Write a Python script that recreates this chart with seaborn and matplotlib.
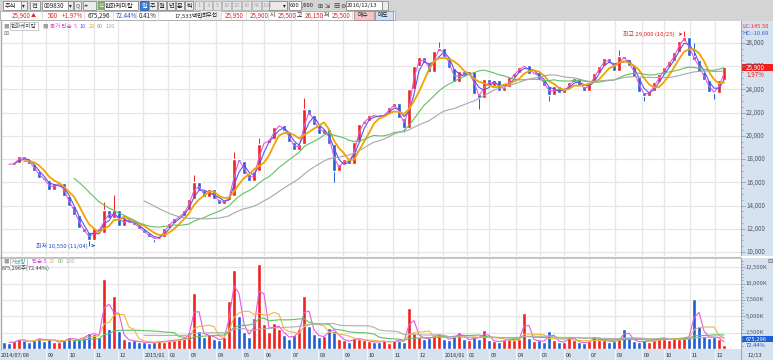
import math
import numpy as np
import pandas as pd
import matplotlib
matplotlib.use("Agg")
import matplotlib.pyplot as plt
from matplotlib.patches import Rectangle
import seaborn as sns

sns.set_style("white")
plt.rcParams['font.family'] = ['Noto Sans CJK KR', 'DejaVu Sans']
plt.rcParams['axes.unicode_minus'] = False

# 한화케미칼 (009830) daily chart 2014/07/08 ~ 2016/12/13 (600 bars),
# read off the picture about every 4 trading days
first_open = 17700
close = [17600, 17500, 17700, 18300, 18000, 17600, 17000, 16400, 16200, 15300,
         15900, 15900, 14800, 14000, 13200, 12100, 11700, 11000, 12100, 11600,
         13600, 12900, 13600, 12200, 12900, 12600, 12300, 12000, 11600, 11300,
         11100, 11300, 12100, 12500, 12900, 13100, 13600, 14600, 16000, 15300,
         14700, 15400, 14600, 14100, 14500, 14800, 18000, 17800, 16700, 16100,
         17000, 19300, 19400, 19700, 20800, 20900, 20400, 19500, 18800, 19300,
         22300, 21800, 20900, 20200, 20600, 19300, 17000, 17600, 18000, 17600,
         19500, 21000, 21300, 21800, 21700, 21600, 21900, 22500, 22800, 21500,
         20700, 24000, 26000, 26800, 26300, 25500, 27300, 27600, 26800, 25800,
         24600, 25600, 25200, 25600, 23600, 23300, 24900, 24300, 24800, 23900,
         24200, 25100, 25400, 25900, 26100, 25300, 25500, 24800, 24300, 23500,
         24300, 23700, 24000, 24600, 25000, 24300, 23900, 24600, 25400, 26000,
         26700, 26300, 25600, 26900, 26600, 26000, 25100, 23800, 23400, 23900,
         24600, 25300, 25900, 26400, 27200, 28200, 28500, 26900, 26500, 25500,
         24800, 23800, 23700, 24800, 25900]
volume_k = [1100, 900, 1200, 1500, 1300, 1000, 1400, 1700, 1200, 1600,
            1100, 1000, 1400, 1800, 1300, 1600, 1900, 2400, 2300, 1800,
            10700, 3000, 8100, 2800, 1600, 1200, 1300, 1000, 1100, 900,
            1000, 1200, 1100, 1400, 1300, 1500, 1700, 2600, 8600, 2800,
            1900, 2300, 1500, 1400, 1800, 7300, 12000, 5000, 2600, 1900,
            4700, 13000, 3800, 2600, 4000, 3000, 2100, 1600, 2200, 3000,
            8100, 3500, 2300, 1800, 2000, 3200, 2700, 1600, 1300, 1100,
            1700, 1500, 1300, 1200, 1000, 1100, 1300, 900, 1400, 1200,
            1100, 6300, 2400, 1900, 1500, 1700, 2100, 2300, 1600, 1400,
            2000, 2600, 1500, 1300, 1900, 1600, 2900, 1300, 1200, 1100,
            1400, 1600, 1300, 1500, 5500, 1700, 1200, 1300, 1100, 2800,
            1400, 1000, 1100, 2000, 1300, 1000, 900, 1200, 2000, 1400,
            1300, 1100, 1200, 1500, 3100, 1700, 1200, 1000, 1300, 1100,
            1400, 1800, 1600, 1400, 1700, 1500, 1900, 1800, 7700, 3500,
            2000, 1700, 1900, 1500, 675]
# wick extremes that stand out on the chart
wick_high = {20: 14300, 22: 14900, 38: 16600, 46: 18600, 51: 19800, 60: 23300,
             87: 28100, 123: 27400, 136: 29000, 138: 28000}
wick_low = {17: 10550, 30: 10900, 66: 16000, 80: 20300, 95: 22300, 109: 23000,
            128: 23000, 142: 23200}

price_ma_days = [5, 10, 20, 60, 120]
price_ma_colors = ['#e85ae0', '#5a5ae6', '#f2a300', '#62c062', '#a8a8a8']
vol_ma_days = [5, 20, 60, 120]
vol_ma_colors = ['#e85ae0', '#f2b640', '#62c062', '#b0b0b0']

month_labels = ['08', '09', '10', '11', '12', '2015/01', '02', '03', '04', '05',
                '06', '07', '08', '09', '10', '11', '12', '2016/01', '02', '03',
                '04', '05', '06', '07', '08', '09', '10', '11', '12']
month_pos = [3.6, 8.4, 12.8, 18.0, 22.8, 27.8, 32.8, 37.0, 42.4, 47.6,
             52.0, 57.4, 62.8, 67.8, 72.6, 77.8, 82.8, 87.8, 92.6, 97.0,
             102.4, 107.2, 112.0, 117.0, 122.2, 127.6, 132.0, 137.2, 142.2]

price_ticks = [10000, 12000, 14000, 16000, 18000, 20000, 22000, 24000, 26000, 28000]
vol_ticks = [2500, 5000, 7500, 10000, 12500]

# ---------------------------------------------------------------- data prep
df = pd.DataFrame({'close': close, 'volume': volume_k})
df['idx'] = np.arange(len(df))
df['open'] = df['close'].shift(1).fillna(first_open)
df['high'] = df[['open', 'close']].max(axis=1)
df['low'] = df[['open', 'close']].min(axis=1)
for k, v in wick_high.items():
    df.loc[k, 'high'] = v
for k, v in wick_low.items():
    df.loc[k, 'low'] = v
df['up'] = df['close'] >= df['open']
step_days = 600 / len(df)
for d in price_ma_days:
    df[f'ma{d}'] = df['close'].rolling(math.ceil(d / step_days)).mean()
for d in vol_ma_days:
    df[f'vma{d}'] = df['volume'].rolling(math.ceil(d / step_days)).mean()

UP, DOWN = '#f0201c', '#1c5ed6'
colors = np.where(df['up'], UP, DOWN)

# ---------------------------------------------------------------- figure
W, H = 773, 360
fig = plt.figure(figsize=(W / 100, H / 100), dpi=100)
fig.patch.set_facecolor('white')
renderer = fig.canvas.get_renderer()
FS = 4.5


def px_axes(x0, y0, x1, y1):
    return fig.add_axes([x0 / W, 1 - y1 / H, (x1 - x0) / W, (y1 - y0) / H])


def frect(x, y, w, h, fc, ec='none', lw=0.6):
    fig.patches.append(Rectangle((x / W, 1 - (y + h) / H), w / W, h / H,
                                 transform=fig.transFigure, fc=fc, ec=ec, lw=lw))


def ftext(x, y, s, color='#222222', size=FS, ha='left', **kw):
    return fig.text(x / W, 1 - y / H, s, color=color, fontsize=size, ha=ha,
                    va='center', **kw)


def chain(x, y, items, size=4, gap=2.5):
    # lay small legend texts one after another from pixel x
    for s, c, boxed in items:
        kw = {}
        if boxed:
            kw['bbox'] = dict(fc='white', ec='#b4b4b4', lw=0.5, pad=0.8)
        t = ftext(x, y, s, color=c, size=size, **kw)
        x += t.get_window_extent(renderer).width + gap + (3 if boxed else 0)


XMIN, XMAX = -0.4, 147.4
PANEL = '#d6e2f0'
GRID = '#e6e6e6'

# price panel
ax = px_axes(2, 21, 741, 256)
ax.set_xlim(XMIN, XMAX)
ax.set_ylim(9657, 29886)
ax.set_yticks(price_ticks)
ax.set_xticks(month_pos)
ax.grid(True, color=GRID, lw=0.9)
ax.tick_params(length=0, labelleft=False, labelbottom=False)
for s in ax.spines.values():
    s.set_visible(False)
ax.vlines(df['idx'], df['low'], df['high'], color=colors, lw=0.7, zorder=3)
body = (df['close'] - df['open']).abs().clip(lower=60)
ax.bar(df['idx'], body, bottom=df[['open', 'close']].min(axis=1), width=0.8,
       color=colors, zorder=3)
for d, c in zip(price_ma_days, price_ma_colors):
    sns.lineplot(data=df, x='idx', y=f'ma{d}', ax=ax, color=c,
                 lw=1.3 if d == 20 else 0.8, zorder=4)
ax.set_xlabel('')
ax.set_ylabel('')
hi_i = int(df['high'].idxmax())
lo_i = int(df['low'].idxmin())
ax.annotate('최고 29,000 (10/25)', xy=(hi_i - 0.3, df.loc[hi_i, 'high'] - 250),
            xytext=(-6, 0), textcoords='offset points', ha='right', va='center',
            fontsize=4.3, color='#e02020',
            arrowprops=dict(arrowstyle='->', color='#e02020', lw=0.6))
ax.annotate('최저 10,550 (11/04)', xy=(lo_i + 1.2, df.loc[lo_i, 'low']),
            xytext=(-5, 0), textcoords='offset points', ha='right', va='center',
            fontsize=4.3, color='#2050c8',
            arrowprops=dict(arrowstyle='->', color='#2050c8', lw=0.6))

# price legend
chain(3, 26, [('■', '#a0a0a0', False), ('한화케미칼', '#505050', True),
              ('■', '#a0a0a0', False), ('종가 단순', '#e040d8', False),
              ('5', price_ma_colors[0], False), ('10', price_ma_colors[1], False),
              ('20', price_ma_colors[2], False), ('60', price_ma_colors[3], False),
              ('120', price_ma_colors[4], False)])
ftext(3, 33, '⊞', color='#808080', size=4.5)

# volume panel
axv = px_axes(2, 258, 741, 349)
axv.set_xlim(XMIN, XMAX)
axv.set_ylim(0, 13900)
axv.set_yticks(vol_ticks)
axv.set_xticks(month_pos)
axv.grid(True, color=GRID, lw=0.9)
axv.tick_params(length=0, labelleft=False, labelbottom=False)
for s in axv.spines.values():
    s.set_visible(False)
axv.bar(df['idx'], df['volume'], width=0.9, color=colors, zorder=3)
for d, c in zip(vol_ma_days, vol_ma_colors):
    sns.lineplot(data=df, x='idx', y=f'vma{d}', ax=axv, color=c, lw=0.8, zorder=4)
axv.set_xlabel('')
axv.set_ylabel('')
chain(3, 261.5, [('■', '#a0a0a0', False), ('거래량', '#3a9ab0', True),
                 ('단순 5', '#e040d8', False), ('20', vol_ma_colors[1], False),
                 ('60', vol_ma_colors[2], False), ('120', vol_ma_colors[3], False)])
ftext(2, 268, '675,296주(72.44%)', color='#404040', size=4)

# separators
fig.add_artist(plt.Line2D([0, 741 / W], [1 - 256.5 / H] * 2, color='#c0c0c0', lw=0.8))
fig.add_artist(plt.Line2D([0, 741 / W], [1 - 258 / H] * 2, color='#c0c0c0', lw=0.6))
fig.add_artist(plt.Line2D([1.2 / W] * 2, [1 - 349 / H, 1 - 21 / H], color='#a8a8a8', lw=1))

# date strip
axs = px_axes(0, 349, 741, 360)
axs.set_xlim(XMIN - 0.4, XMAX)
axs.set_ylim(0, 1)
axs.set_facecolor(PANEL)
axs.set_xticks([])
axs.set_yticks([])
for s in axs.spines.values():
    s.set_visible(False)
axs.vlines(month_pos, 0, 1, color='#f2f5fa', lw=0.8)
axs.text(XMIN - 0.2, 0.45, '2014/07/08', fontsize=4, color='#303030', va='center')
for p, lab in zip(month_pos[1:], month_labels[1:]):
    axs.text(p + 0.4, 0.45, lab, fontsize=4, color='#303030', va='center')

# right axis panels
axr = px_axes(741, 21, 773, 256)
axr.set_ylim(ax.get_ylim())
axr.set_xlim(0, 1)
axr.set_facecolor(PANEL)
axr.set_xticks([])
axr.set_yticks([])
for s in axr.spines.values():
    s.set_visible(False)
axr.axvline(0, color='#9aa8ba', lw=0.8)
for v in range(10000, 29500, 500):
    axr.hlines(v, 0, 0.12 if v in price_ticks else 0.06, color='#8090a0', lw=0.5)
for v in price_ticks:
    axr.text(0.16, v, f'{v:,}', fontsize=FS, color='#505860', va='center')
axr.text(0.04, 0.977, 'LC:145.50', transform=axr.transAxes, fontsize=4.2, color='#e03030', va='center')
axr.text(0.04, 0.948, 'HC:-10.69', transform=axr.transAxes, fontsize=4.2, color='#3060d0', va='center')
last = df.iloc[-1]
axr.add_patch(Rectangle((0.02, last['close'] - 300), 0.98, 600, fc='#f02020', ec='none'))
axr.text(0.16, last['close'], f"{int(last['close']):,}", fontsize=FS, color='white', va='center')
axr.text(0.16, last['close'] - 650, '1.97%', fontsize=FS, color='#e02020', va='center')

axvr = px_axes(741, 258, 773, 349)
axvr.set_ylim(axv.get_ylim())
axvr.set_xlim(0, 1)
axvr.set_facecolor(PANEL)
axvr.set_xticks([])
axvr.set_yticks([])
for s in axvr.spines.values():
    s.set_visible(False)
axvr.axvline(0, color='#9aa8ba', lw=0.8)
for v in range(500, 13900, 500):
    axvr.hlines(v, 0, 0.12 if v in vol_ticks else 0.06, color='#8090a0', lw=0.5)
for v in vol_ticks:
    axvr.text(0.14, v, f'{v:,}K', fontsize=4.2, color='#505860', va='center')
axvr.add_patch(Rectangle((0.02, 1050), 0.98, 900, fc='#1c5ed6', ec='none'))
axvr.text(0.14, 1500, '675,296', fontsize=4.2, color='white', va='center')
axvr.text(0.14, 550, '72.44%', fontsize=4.2, color='#2050c8', va='center')
axvr.text(0.84, 0.97, '⊟', transform=axvr.transAxes, fontsize=4.5, color='#606060', va='center')

axsr = px_axes(741, 349, 773, 360)
axsr.set_facecolor(PANEL)
axsr.set_xticks([])
axsr.set_yticks([])
for s in axsr.spines.values():
    s.set_visible(False)
axsr.axvline(0, color='#9aa8ba', lw=0.8)
axsr.text(0.2, 0.45, '12/13', fontsize=4, color='#303030', va='center', transform=axsr.transAxes)

# ---------------------------------------------------------------- toolbar
frect(0, 0, W, 21, '#d4d4d4')
frect(3, 1, 18, 9, 'white', '#8a8a8a')
ftext(4.5, 5.5, '주식')
frect(21, 1, 6, 9, '#ececec', '#8a8a8a')
ftext(22, 5.5, '▾', size=4)
frect(30, 1, 10, 9, '#f2f2f2', '#8a8a8a')
ftext(31.5, 5.5, '전')
frect(42, 1, 26, 9, 'white', '#8a8a8a')
ftext(44, 5.5, '009830')
frect(68, 1, 5, 9, '#ececec', '#8a8a8a')
ftext(68.5, 5.5, '▾', size=4)
frect(74, 1, 7, 9, '#ececec', '#8a8a8a')
ftext(75.5, 5.5, 'Q', size=4, color='#505050')
frect(83, 1, 13, 9, '#ececec', '#8a8a8a')
ftext(84, 5.5, '◂▸', size=3.8, color='#505050')
frect(98, 1, 6, 9, '#7bb05a')
ftext(98.5, 5.5, '신', size=3.8, color='white')
frect(104, 1, 34, 9, 'white', '#8a8a8a')
ftext(105, 5.5, '한화케미칼')
frect(140, 1, 8, 9, '#3d7fd8', '#2a5ea8')
ftext(141, 5.5, '일', color='white')
for i, lab in enumerate(['주', '월', '년', '분', '틱']):
    frect(149 + 9 * i, 1, 8, 9, '#eeeeee', '#8a8a8a')
    ftext(150 + 9 * i, 5.5, lab)
xx = 195
for lab, w in zip(['1', '3', '5', '10', '20', '30', '60', '120'], [8, 8, 8, 9, 9, 9, 9, 11]):
    frect(xx, 1, w, 9, '#e4e4e4', '#b4b4b4')
    ftext(xx + w / 2, 5.5, lab, color='#a8a8a8', ha='center', size=4)
    xx += w + 1
frect(269, 1, 18, 9, '#eaeaea', '#8a8a8a')
ftext(283, 5.5, '▾', size=4)
frect(289, 1, 12, 9, 'white', '#8a8a8a')
ftext(290, 5.5, '600', size=4.2)
ftext(302, 5.5, '/600', size=4.2)
ftext(317, 5.5, '⊞', size=4.5, color='#404040')
ftext(325, 5.5, '⇲', size=4.5, color='#404040')
ftext(333, 5.5, '▤', size=4.5, color='#404040')
ftext(340, 5.5, '⚙', size=4.5, color='#404040')
frect(346, 1, 36, 9, 'white', '#8a8a8a')
ftext(347, 5.5, '2016/12/13', size=4.2)
frect(382, 1, 6, 9, '#ececec', '#8a8a8a')

frect(0, 11, 395, 9, 'white', '#a8a8a8')
for sx in [42, 84, 113, 136, 158, 200, 221, 246, 268, 295, 322, 352]:
    fig.add_artist(plt.Line2D([sx / W] * 2, [1 - 20 / H, 1 - 11 / H], color='#d0d0d0', lw=0.5))
R = '#e82020'
ftext(12, 15.5, '25,900', color=R)
ftext(31, 15.5, '▲', color=R, size=3.6)
ftext(48, 15.5, '500', color=R)
ftext(62, 15.5, '+1.97%', color=R)
ftext(88, 15.5, '675,296')
ftext(116, 15.5, '72.44%', color='#2050c8')
ftext(139, 15.5, '0.41%')
ftext(174, 15.5, '17,533백만', size=4.2)
frect(201, 11, 20, 9, '#eeeeee')
ftext(201.5, 15.5, '최우선', size=4.2)
ftext(225, 15.5, '25,950', color=R)
ftext(250, 15.5, '25,900', color=R)
ftext(270, 15.5, '시', size=4.2)
ftext(278, 15.5, '25,500', color=R)
ftext(297, 15.5, '고', size=4.2)
ftext(305, 15.5, '26,150', color=R)
ftext(324, 15.5, '저', size=4.2)
ftext(332, 15.5, '25,500', color=R)
frect(354, 11, 20, 9, '#f3c6c6', '#b08888')
ftext(357, 15.5, '매수', size=4.2)
frect(375, 11, 18, 9, '#cfe0f3', '#8098b8')
ftext(377.5, 15.5, '매도', size=4.2)

fig.savefig('out.png', dpi=100)
